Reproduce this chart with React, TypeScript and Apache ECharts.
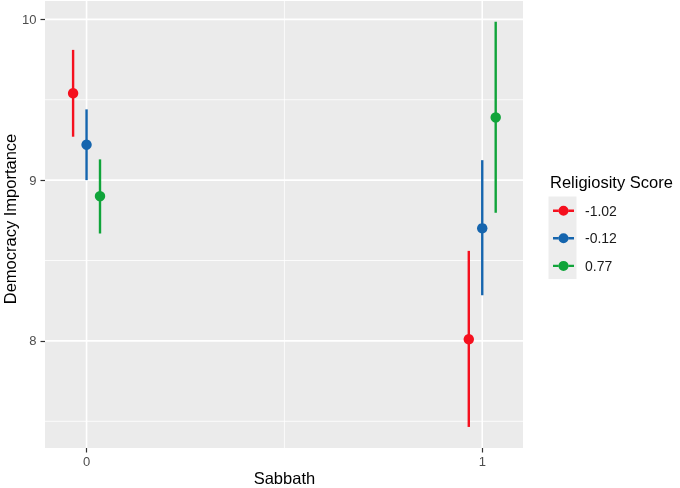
import React, { useEffect, useRef } from "react";
import * as echarts from "echarts";

// ---- data ----
const sabbath = [0, 1];
const religiosity = ["-1.02", "-0.12", "0.77"];
const colors = ["#F5101E", "#1565AE", "#10A43A"];
// mean, lower, upper for each religiosity group at sabbath = 0, 1
const meanLowRel = [9.54, 8.01];
const lowerLowRel = [9.27, 7.465];
const upperLowRel = [9.81, 8.56];
const meanMidRel = [9.22, 8.7];
const lowerMidRel = [9.0, 8.284];
const upperMidRel = [9.44, 9.124];
const meanHighRel = [8.9, 9.39];
const lowerHighRel = [8.668, 8.797];
const upperHighRel = [9.129, 9.985];
const yMajorTicks = [8, 9, 10];
const yMinorTicks = [7.5, 8.5, 9.5];
const xMajorTicks = [0, 1];
const xMinorTicks = [0.5];

const groups = [
  { mean: meanLowRel, lower: lowerLowRel, upper: upperLowRel },
  { mean: meanMidRel, lower: lowerMidRel, upper: upperMidRel },
  { mean: meanHighRel, lower: lowerHighRel, upper: upperHighRel },
];

const X_MIN = -0.105;
const X_MAX = 1.103;
const Y_MIN = 7.334;
const Y_MAX = 10.114;
const DODGE = 0.034;
const FONT = "'Liberation Sans', Arial, Helvetica, sans-serif";

const ICON =
  "path://M0,3.8 H5.7 V6.2 H0 Z M15.3,3.8 H21 V6.2 H15.3 Z M5.5,5 A5,5 0 1,0 15.5,5 A5,5 0 1,0 5.5,5 Z";

export default function App() {
  const ref = useRef<HTMLDivElement>(null);
  useEffect(() => {
    if (!ref.current) return;
    const chart = echarts.init(ref.current, undefined, { renderer: "svg" });

    const gridData = [
      ...yMajorTicks.map((v) => [v, 0, 1]),
      ...yMinorTicks.map((v) => [v, 0, 0]),
      ...xMajorTicks.map((v) => [v, 1, 1]),
      ...xMinorTicks.map((v) => [v, 1, 0]),
    ];

    const gridSeries: any = {
      type: "custom",
      name: "grid",
      silent: true,
      clip: false,
      z: 1,
      data: gridData,
      renderItem: (params: any, api: any) => {
        const cs = params.coordSys;
        const v = api.value(0);
        const vertical = api.value(1) === 1;
        const major = api.value(2) === 1;
        const lw = major ? 1.6 : 0.8;
        if (vertical) {
          const x = api.coord([v, Y_MIN])[0];
          return {
            type: "line",
            shape: { x1: x, y1: cs.y, x2: x, y2: cs.y + cs.height },
            style: { stroke: "#FFFFFF", lineWidth: lw },
          };
        }
        const y = api.coord([X_MIN, v])[1];
        return {
          type: "line",
          shape: { x1: cs.x, y1: y, x2: cs.x + cs.width, y2: y },
          style: { stroke: "#FFFFFF", lineWidth: lw },
        };
      },
    };

    const barSeries = groups.map((g, gi) => {
      const offset = (gi - 1) * DODGE;
      const color = colors[gi];
      return {
        type: "custom",
        name: religiosity[gi],
        z: 5,
        clip: false,
        itemStyle: { color },
        encode: { x: 0, y: [1, 2, 3] },
        data: sabbath.map((s, i) => [s, g.mean[i], g.lower[i], g.upper[i]]),
        renderItem: (params: any, api: any) => {
          const x = api.value(0) + offset;
          const c = api.coord([x, api.value(1)]);
          const lo = api.coord([x, api.value(2)]);
          const hi = api.coord([x, api.value(3)]);
          return {
            type: "group",
            children: [
              {
                type: "line",
                shape: { x1: c[0], y1: hi[1], x2: c[0], y2: lo[1] },
                style: { stroke: color, lineWidth: 2.4 },
              },
              {
                type: "circle",
                shape: { cx: c[0], cy: c[1], r: 5.2 },
                style: { fill: color },
              },
            ],
          };
        },
      } as any;
    });

    chart.setOption({
      animation: false,
      grid: {
        left: 45,
        right: 157,
        top: 1,
        bottom: 40,
        show: true,
        backgroundColor: "#EBEBEB",
        borderWidth: 0,
      },
      xAxis: {
        type: "value",
        min: X_MIN,
        max: X_MAX,
        position: "bottom",
        splitLine: { show: false },
        axisLine: { show: false, onZero: false },
        axisTick: {
          show: true,
          customValues: xMajorTicks,
          length: 4.5,
          lineStyle: { color: "#333333", width: 1.2 },
        },
        axisLabel: {
          customValues: xMajorTicks,
          margin: 6.5,
          fontSize: 13,
          color: "#4D4D4D",
          fontFamily: FONT,
        },
      },
      yAxis: {
        type: "value",
        min: Y_MIN,
        max: Y_MAX,
        position: "left",
        splitLine: { show: false },
        axisLine: { show: false, onZero: false },
        axisTick: {
          show: true,
          customValues: yMajorTicks,
          length: 4.5,
          lineStyle: { color: "#333333", width: 1.2 },
        },
        axisLabel: {
          customValues: yMajorTicks,
          margin: 8.5,
          fontSize: 13,
          color: "#4D4D4D",
          fontFamily: FONT,
        },
      },
      legend: {
        orient: "vertical",
        left: 553,
        top: 202.7,
        itemWidth: 21,
        itemHeight: 10,
        itemGap: 11.6,
        padding: 0,
        selectedMode: false,
        textStyle: {
          fontSize: 14,
          color: "#1A1A1A",
          fontFamily: FONT,
          lineHeight: 16,
          padding: [0, 0, 0, 6],
        },
        data: religiosity.map((n) => ({ name: n, icon: ICON })),
      },
      graphic: [
        {
          type: "rect",
          z: -1,
          shape: { x: 548.5, y: 196.5, width: 28, height: 82.5 },
          style: { fill: "#EDEDED" },
        },
        {
          type: "text",
          x: 550,
          y: 181.5,
          style: {
            text: "Religiosity Score",
            font: `16.5px ${FONT}`,
            fill: "#000000",
            textAlign: "left",
            textVerticalAlign: "middle",
          },
        },
        {
          type: "text",
          x: 284.4,
          y: 477.5,
          style: {
            text: "Sabbath",
            font: `16.5px ${FONT}`,
            fill: "#000000",
            textAlign: "center",
            textVerticalAlign: "middle",
          },
        },
        {
          type: "text",
          x: 9.5,
          y: 219,
          rotation: Math.PI / 2,
          style: {
            text: "Democracy Importance",
            font: `16.5px ${FONT}`,
            fill: "#000000",
            textAlign: "center",
            textVerticalAlign: "middle",
          },
        },
      ],
      series: [gridSeries, ...barSeries],
    });

    return () => chart.dispose();
  }, []);

  return (
    <div
      ref={ref}
      style={{ position: "fixed", left: 0, top: 0, width: 680, height: 488 }}
    />
  );
}
